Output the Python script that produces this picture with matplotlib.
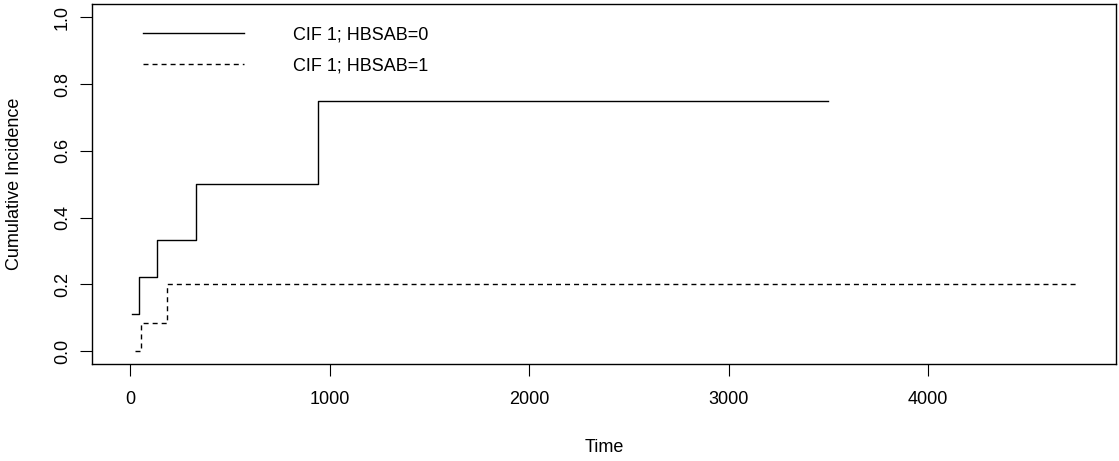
import numpy as np
import matplotlib.pyplot as plt

plt.rcParams['font.family'] = ['Liberation Sans', 'DejaVu Sans']

# Cumulative incidence step curves
time_hb0 = [10, 44, 134, 330, 941, 3500]
cif_hb0 = [1 / 9, 2 / 9, 1 / 3, 0.5, 0.75, 0.75]

time_hb1 = [23, 52, 187, 4747]
cif_hb1 = [0.0, 1 / 12, 0.2, 0.2]

labels = ['CIF 1; HBSAB=0', 'CIF 1; HBSAB=1']
x_ticks = [0, 1000, 2000, 3000, 4000]
y_ticks = [0.0, 0.2, 0.4, 0.6, 0.8, 1.0]

fig = plt.figure(figsize=(11.19, 4.61), dpi=100)
ax = fig.add_axes([92.3 / 1119, (461 - 364.3) / 461,
                   (1115.7 - 92.3) / 1119, (364.3 - 4) / 461])

ax.step(time_hb0, cif_hb0, where='post', color='black', linewidth=1.0,
        label=labels[0])
ax.step(time_hb1, cif_hb1, where='post', color='black', linewidth=1.0,
        dashes=(3.6, 2.9), label=labels[1])

# R-style 4% axis expansion
ax.set_xlim(-190, 4941)
ax.set_ylim(-0.04, 1.04)

ax.set_xticks(x_ticks)
ax.set_xticklabels([str(t) for t in x_ticks])
ax.set_yticks(y_ticks)
ax.set_yticklabels([f'{v:.1f}' for v in y_ticks], rotation=90, va='center')
ax.tick_params(axis='both', direction='out', length=8.5, width=0.8,
               labelsize=13, colors='black')
ax.tick_params(axis='x', pad=11)
ax.tick_params(axis='y', pad=7)
for sp in ax.spines.values():
    sp.set_linewidth(1.0)
    sp.set_color('black')

ax.set_xlabel('Time', fontsize=13, labelpad=22)
ax.set_ylabel('Cumulative Incidence', fontsize=13, labelpad=22)

ax.legend(loc='upper left', bbox_to_anchor=(0.0492, 0.937), frameon=False,
          fontsize=13, handlelength=5.63, handletextpad=2.7,
          labelspacing=0.78, borderpad=0, borderaxespad=0)

fig.savefig('out.png', dpi=100)
